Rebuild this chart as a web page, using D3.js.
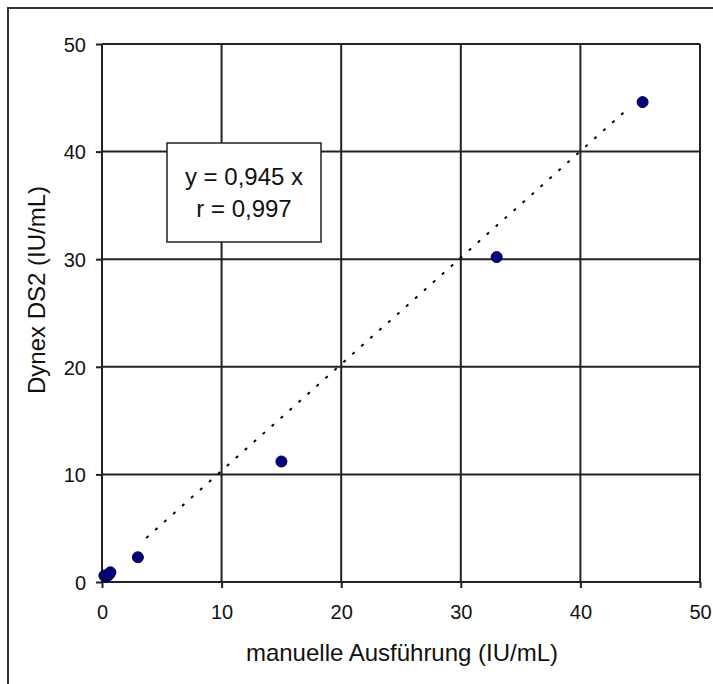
<!DOCTYPE html>
<html>
<head>
<meta charset="utf-8">
<script src="https://cdn.jsdelivr.net/npm/d3@7"></script>
<style>
  body { margin: 0; background: #fff; }
  svg { display: block; }
  text { font-family: Arial, "Liberation Sans", sans-serif; fill: #111; }
  .grid line { stroke: #222; stroke-width: 2; }
  .axis path, .axis line { stroke: #222; stroke-width: 2; }
</style>
</head>
<body>
<div id="chart"></div>
<script>
// manual reading (x) vs Dynex DS2 reading (y), IU/mL
var manualX = [0.2, 0.4, 0.6, 0.7, 3.0, 15.0, 33.0, 45.2];
var dynexY  = [0.6, 0.5, 0.7, 0.9, 2.3, 11.2, 30.2, 44.6];

// dotted trendline as drawn in the picture
var trendX = [3.7, 44.0];
var trendY = [4.1, 44.0];

var ticks = [0, 10, 20, 30, 40, 50];
var boxLines = ["y = 0,945 x", "r = 0,997"];

var W = 713, H = 684;
var margin = {top: 44, right: 13, bottom: 102, left: 102};
var width = W - margin.left - margin.right,
    height = H - margin.top - margin.bottom;

var svg = d3.select("#chart").append("svg")
    .attr("width", W)
    .attr("height", H);

// outer chart frame (runs off right/bottom edge)
svg.append("rect")
    .attr("x", 8).attr("y", 8)
    .attr("width", W + 20).attr("height", H + 20)
    .attr("fill", "none")
    .attr("stroke", "#333")
    .attr("stroke-width", 2);

var g = svg.append("g")
    .attr("transform", "translate(" + margin.left + "," + margin.top + ")");

var x = d3.scaleLinear().domain([0, 50]).range([0, width]);
var y = d3.scaleLinear().domain([0, 50]).range([height, 0]);

// gridlines
g.append("g")
    .attr("class", "grid")
    .selectAll("line.v")
    .data(ticks)
  .enter().append("line")
    .attr("x1", function(d) { return x(d); })
    .attr("x2", function(d) { return x(d); })
    .attr("y1", 0).attr("y2", height);

g.select(".grid")
    .selectAll("line.h")
    .data(ticks)
  .enter().append("line")
    .attr("y1", function(d) { return y(d); })
    .attr("y2", function(d) { return y(d); })
    .attr("x1", 0).attr("x2", width);

// axes
g.append("g")
    .attr("class", "axis")
    .attr("transform", "translate(0," + height + ")")
    .call(d3.axisBottom(x).tickValues(ticks).tickSize(6).tickPadding(17).tickSizeOuter(0))
    .call(function(s) { s.select(".domain").remove(); })
    .selectAll("text")
    .style("font-size", "20px")
    .attr("fill", "#111");

g.append("g")
    .attr("class", "axis")
    .call(d3.axisLeft(y).tickValues(ticks).tickSize(6).tickPadding(10).tickSizeOuter(0))
    .call(function(s) { s.select(".domain").remove(); })
    .selectAll("text")
    .style("font-size", "20px")
    .attr("dy", "0.36em")
    .attr("fill", "#111");

// trendline
var line = d3.line()
    .x(function(d) { return x(d[0]); })
    .y(function(d) { return y(d[1]); });

g.append("path")
    .datum(d3.zip(trendX, trendY))
    .attr("d", line)
    .attr("fill", "none")
    .attr("stroke", "#000")
    .attr("stroke-width", 2)
    .attr("stroke-dasharray", "3,9");

// points
g.selectAll(".dot")
    .data(d3.zip(manualX, dynexY))
  .enter().append("circle")
    .attr("class", "dot")
    .attr("cx", function(d) { return x(d[0]); })
    .attr("cy", function(d) { return y(d[1]); })
    .attr("r", 5.5)
    .attr("fill", "#000080")
    .attr("stroke", "#000030")
    .attr("stroke-width", 1);

// equation box
var box = svg.append("g").attr("transform", "translate(167,143)");
box.append("rect")
    .attr("width", 154).attr("height", 99)
    .attr("fill", "#fff")
    .attr("stroke", "#222")
    .attr("stroke-width", 1.5);
box.selectAll("text")
    .data(boxLines)
  .enter().append("text")
    .attr("x", 77)
    .attr("y", function(d, i) { return 42 + i * 32; })
    .attr("text-anchor", "middle")
    .style("font-size", "24px")
    .text(function(d) { return d; });

// axis titles
svg.append("text")
    .attr("x", 402).attr("y", 661)
    .attr("text-anchor", "middle")
    .style("font-size", "24px")
    .text("manuelle Ausführung (IU/mL)");

svg.append("text")
    .attr("transform", "translate(45,290) rotate(-90)")
    .attr("text-anchor", "middle")
    .style("font-size", "24px")
    .text("Dynex DS2 (IU/mL)");
</script>
</body>
</html>
